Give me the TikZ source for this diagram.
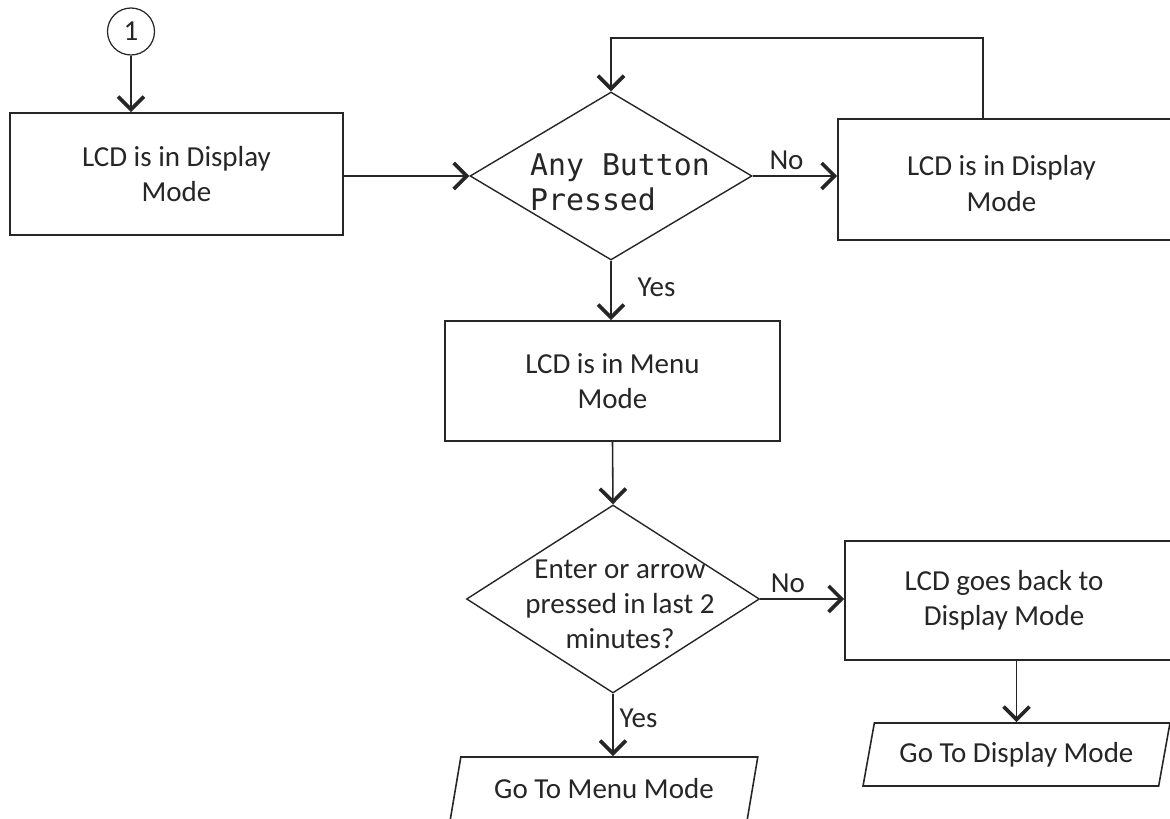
\documentclass[tikz,border=0pt]{standalone}
\usepackage{fontspec}
\setmainfont{Carlito}
\newfontfamily\codefont{DejaVu Sans Mono}
\usetikzlibrary{arrows.meta, positioning, shapes.geometric}

\begin{document}
\begin{tikzpicture}[
    line width=0.9pt, color=black!85,
    every node/.style={font=\fontsize{16.5}{20}\selectfont},
    modebox/.style={rectangle, draw, align=center},
    decision/.style={diamond, draw, inner sep=0pt, line width=0.8pt},
    goto/.style={trapezium, trapezium left angle=75, trapezium right angle=105,
        trapezium stretches=true, draw, minimum height=1.26cm},
    flow/.style={-{Straight Barb[length=2.6mm, width=5.2mm, line width=2.1pt]}}
]
    \useasboundingbox (0,0) rectangle (23.4,-16.38);

    \node[circle, draw, minimum size=0.94cm, inner sep=0pt, line width=0.7pt] (start) at (2.62, -0.63) {1};
    \node[modebox, minimum width=6.66cm, minimum height=2.44cm] (lcddisp) at (3.53, -3.48) {LCD is in Display\\Mode};
    \node[decision, minimum width=5.64cm, minimum height=3.36cm,
        label={[font=\codefont\fontsize{17}{20}\selectfont, align=left, xshift=0.18cm, yshift=-0.12cm]center:Any Button\\Pressed}] (anybtn) at (12.22, -3.52) {};
    \node[modebox, minimum width=7.3cm, minimum height=2.42cm,
        label={[align=center, xshift=-0.38cm, yshift=-0.08cm]center:LCD is in Display\\Mode}] (stilldisp) at (20.41, -3.59) {};
    \node[modebox, minimum width=6.7cm, minimum height=2.4cm] (menumode) at (12.25, -7.62) {LCD is in Menu\\Mode};
    \node[decision, minimum width=5.86cm, minimum height=3.76cm,
        label={[align=center, xshift=0.14cm, yshift=-0.1cm]center:Enter or arrow\\pressed in last 2\\minutes?}] (enterarrow) at (12.26, -11.98) {};
    \node[modebox, minimum width=7.2cm, minimum height=2.38cm,
        label={[align=center, xshift=-0.42cm]center:LCD goes back to\\Display Mode}] (backdisp) at (20.50, -12.01) {};
    \node[goto, minimum width=6.16cm] (gomenu) at (12.08, -15.77) {Go To Menu Mode};
    \node[goto, minimum width=6.14cm] (gotodisp) at (20.33, -15.09) {Go To Display Mode};
    \coordinate (loopcorner) at (19.66, -0.76);

    \draw[flow] (start) -- (start |- lcddisp.north);
    \draw[flow] (lcddisp.east |- anybtn.west) -- (anybtn.west);
    \draw[flow] (anybtn.east) -- node[above, pos=0.4] {No} (anybtn.east -| stilldisp.west);
    \draw[flow] (stilldisp.north -| loopcorner) -- (loopcorner) -| (anybtn.north);
    \draw[flow] (anybtn.south) -- node[right=0.4cm, pos=0.45] {Yes} (anybtn.south |- menumode.north);
    \draw[flow] (menumode.south) -- (enterarrow.north);
    \draw[flow] (enterarrow.east) -- node[above, pos=0.33] {No} (enterarrow.east -| backdisp.west);
    \draw[flow] (enterarrow.south) -- node[right, pos=0.4] {Yes} (enterarrow.south |- gomenu.north);
    \draw[flow] (gotodisp.north |- backdisp.south) -- (gotodisp.north);
\end{tikzpicture}
\end{document}
